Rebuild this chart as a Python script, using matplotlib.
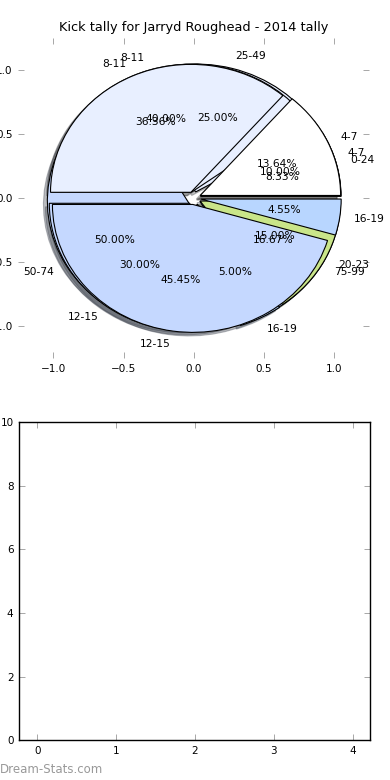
import matplotlib
matplotlib.use("Agg")
import matplotlib.pyplot as plt

title = "Kick tally for Jarryd Roughead - 2014 tally"

# Pie drawn first (bottom)
labels_c = ["0-24", "25-49", "50-74", "75-99"]
values_c = [1, 3, 6, 2]

# Pie drawn second
labels_b = ["4-7", "8-11", "12-15", "16-19", "20-23"]
values_b = [2, 8, 6, 1, 3]

# Pie drawn last (top)
labels_a = ["4-7", "8-11", "12-15", "16-19"]
values_a = [3, 8, 10, 1]

colors = ["#ffffff", "#e8efff", "#c5d8ff", "#b8d6ff", "#c9e589"]

pie_ticks = [-1.0, -0.5, 0.0, 0.5, 1.0]
bar_xticks = [0, 1, 2, 3, 4]
bar_yticks = [0, 2, 4, 6, 8, 10]

fig = plt.figure(figsize=(3.9, 7.8), dpi=100)
ax = fig.add_axes([0.047, 0.541, 0.9, 0.41])
ax2 = fig.add_axes([0.049, 0.051, 0.9, 0.408])

txt = dict(fontsize=7.7)
for labels, values in [(labels_c, values_c), (labels_b, values_b), (labels_a, values_a)]:
    ax.pie(values, labels=labels, colors=colors[:len(values)],
           explode=[0.05] * len(values), autopct="%1.2f%%",
           shadow=dict(ox=-0.02, oy=-0.02, alpha=0.35),
           startangle=0, textprops=txt,
           wedgeprops=dict(edgecolor="black", linewidth=0.8))

ax.set_aspect("auto")
ax.set_frame_on(False)
ax.set_xlim(-1.25, 1.25)
ax.set_ylim(-1.25, 1.25)
ax.set_xticks(pie_ticks)
ax.set_yticks(pie_ticks)
ax.set_xticklabels([f"{t:.1f}".replace("-", "\u2212") for t in pie_ticks])
ax.set_yticklabels([f"{t:.1f}".replace("-", "\u2212") for t in pie_ticks])
ax.set_title(title, fontsize=9.3, pad=5)

for a in (ax, ax2):
    a.tick_params(direction="in", top=True, right=True, length=4, width=0.6,
                  color="#999999", labelsize=7.5, pad=4)

ax2.set_xlim(-0.23, 4.22)
ax2.set_ylim(0, 10)
ax2.set_xticks(bar_xticks)
ax2.set_yticks(bar_yticks)
for s in ax2.spines.values():
    s.set_linewidth(1.0)

fig.text(0.0, 0.013, "Dream-Stats.com", fontsize=8.5, color="#999999",
         ha="left", va="center")

fig.savefig("out.png", dpi=100)
